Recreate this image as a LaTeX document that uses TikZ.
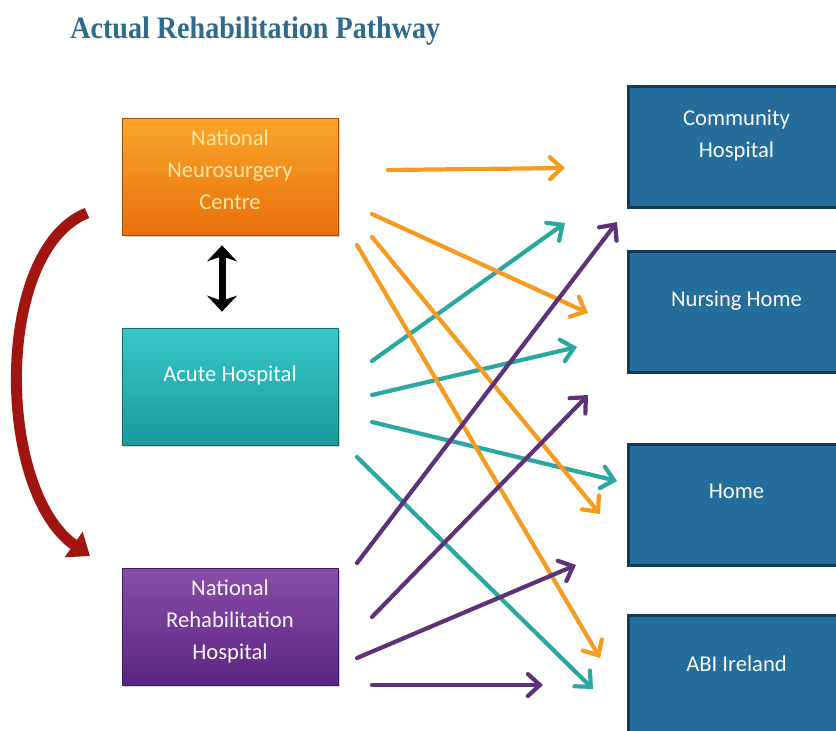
\documentclass[tikz,border=0pt]{standalone}
\usepackage{fontspec}
\setmainfont{Carlito}
\newfontfamily\titlefont[FakeStretch=0.9]{Liberation Serif}
\usetikzlibrary{arrows.meta,shadows}

\definecolor{titleblue}{HTML}{2D6A8C}
\definecolor{orangetop}{HTML}{F9A62A}
\definecolor{orangebot}{HTML}{E8700C}
\definecolor{tealtop}{HTML}{36C8CA}
\definecolor{tealbot}{HTML}{1A9A9D}
\definecolor{purpletop}{HTML}{8A4DAA}
\definecolor{purplebot}{HTML}{5A2580}
\definecolor{destblue}{HTML}{256D9A}
\definecolor{destedge}{HTML}{123D5A}
\definecolor{orangeline}{HTML}{F49B20}
\definecolor{tealline}{HTML}{2BA7A2}
\definecolor{purpleline}{HTML}{5D3279}
\definecolor{bendred}{HTML}{A0150F}
\definecolor{paleyellow}{HTML}{FFE7A3}

\tikzset{
  srcbox/.style={rectangle, minimum width=108pt, minimum height=58.5pt,
    align=center, font=\fontsize{11.3}{16}\selectfont, text=white!94!gray,
    drop shadow={opacity=0.35, shadow xshift=1.2pt, shadow yshift=-1.2pt}},
  destbox/.style={rectangle, draw=destedge, line width=1.5pt, fill=destblue,
    minimum width=108pt, minimum height=60.5pt, anchor=west, align=center,
    font=\fontsize{11.3}{16}\selectfont, text=white!94!gray, text depth=13pt},
  flow/.style={line width=2.1pt, line cap=round,
    -{Straight Barb[length=6pt,width=11pt,line cap=round]}},
}

\begin{document}
\begin{tikzpicture}[x=0.5pt,y=-0.5pt]
\clip (0,0) rectangle (836,730);
\fill[white] (0,0) rectangle (836,730);

\node[anchor=base west, inner sep=0pt, text=titleblue,
  font=\titlefont\bfseries\fontsize{15.6}{18}\selectfont]
  (title) at (70,38) {Actual Rehabilitation Pathway};

% sources
\node[srcbox, top color=orangetop, bottom color=orangebot, draw=orangebot!70!black,
  text=paleyellow, text depth=6.5pt] (nnc) at (230,176.5) {National\\Neurosurgery\\Centre};
\node[srcbox, top color=tealtop, bottom color=tealbot, draw=tealbot!70!black,
  text depth=13pt] (acute) at (230,386.5) {Acute Hospital};
\node[srcbox, top color=purpletop, bottom color=purplebot, draw=purplebot!70!black,
  text depth=7pt] (nrh) at (230,626.5) {National\\Rehabilitation\\Hospital};

% destinations
\node[destbox] (comm) at (627,146.5) {Community\\Hospital};
\node[destbox] (nursing) at (627,312) {Nursing Home};
\node[destbox] (home) at (627,504.5) {Home};
\node[destbox, minimum height=62pt] (abi) at (627,677) {ABI Ireland};

% transfer between the first two
\draw[line width=3.5pt, {Stealth[length=8pt,width=15pt]}-{Stealth[length=8pt,width=15pt]},
  shorten <=5pt, shorten >=8pt] ([xshift=-4pt]nnc.south) -- ([xshift=-4pt]acute.north);

% bypass arrow on the left
\coordinate (bendtop) at (87,213);
\coordinate (bendbot) at (90,556);
\draw[bendred, line width=5.5pt, -{Triangle[length=10pt,width=15pt]}]
  (bendtop) .. controls (-6,250) and (-4,490) .. (bendbot);

% arrow ends
\coordinate (o1s) at (388,170); \coordinate (o1e) at (565,168);
\coordinate (o2s) at (372,214); \coordinate (o2e) at (588,313);
\coordinate (o3s) at (372,237); \coordinate (o3e) at (600,514);
\coordinate (o4s) at (357,245); \coordinate (o4e) at (600,658);
\coordinate (t1s) at (372,361); \coordinate (t1e) at (565,223);
\coordinate (t2s) at (372,395); \coordinate (t2e) at (577,347);
\coordinate (t3s) at (372,422); \coordinate (t3e) at (617,481);
\coordinate (t4s) at (357,457); \coordinate (t4e) at (593,689);
\coordinate (p1s) at (357,563); \coordinate (p1e) at (617,222);
\coordinate (p2s) at (372,617); \coordinate (p2e) at (588,395);
\coordinate (p3s) at (357,658); \coordinate (p3e) at (576,565);
\coordinate (p4s) at (372,685); \coordinate (p4e) at (543,685);

\draw[flow, tealline] (t1s) -- (t1e);
\draw[flow, tealline] (t2s) -- (t2e);
\draw[flow, tealline] (t3s) -- (t3e);
\draw[flow, tealline] (t4s) -- (t4e);

\draw[flow, orangeline] (o1s) -- (o1e);
\draw[flow, orangeline] (o2s) -- (o2e);
\draw[flow, orangeline] (o3s) -- (o3e);
\draw[flow, orangeline] (o4s) -- (o4e);

\draw[flow, purpleline] (p1s) -- (p1e);
\draw[flow, purpleline] (p2s) -- (p2e);
\draw[flow, purpleline] (p3s) -- (p3e);
\draw[flow, purpleline] (p4s) -- (p4e);
\end{tikzpicture}
\end{document}
